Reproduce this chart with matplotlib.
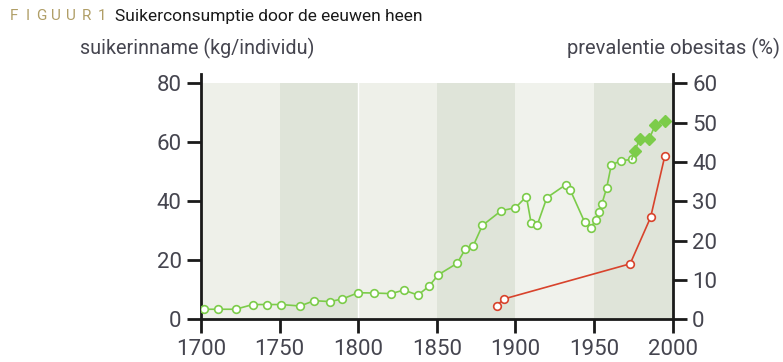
import matplotlib.pyplot as plt

plt.rcParams['font.family'] = ['Roboto', 'DejaVu Sans']

# suikerinname (kg/individu), linker as
sugar_years = [1702, 1711, 1722, 1733, 1742, 1751, 1763, 1772, 1782, 1790,
               1800, 1810, 1821, 1829, 1838, 1845, 1851, 1863, 1868, 1873,
               1879, 1891, 1900, 1907, 1910, 1914, 1920, 1932, 1935, 1944,
               1948, 1951, 1953, 1955, 1958, 1961, 1967, 1974]
sugar_vals = [3.4, 3.4, 3.4, 5.0, 5.0, 5.0, 4.5, 6.3, 6.0, 6.9,
              9.0, 8.9, 8.7, 9.9, 8.2, 11.2, 15.1, 19.0, 23.7, 24.7,
              31.8, 36.8, 37.8, 41.6, 32.6, 32.1, 41.2, 45.6, 43.7, 33.0,
              31.1, 33.6, 36.4, 39.1, 44.4, 52.3, 53.7, 54.2]
# recente jaren (gevulde ruiten)
recent_years = [1974, 1976, 1979, 1985, 1989, 1995]
recent_vals = [54.2, 57.1, 61.0, 61.0, 65.9, 67.3]

# prevalentie obesitas (%), rechter as
obes_years = [1888, 1893, 1973, 1986, 1995]
obes_vals = [3.5, 5.2, 14.1, 25.9, 41.4]

bands = [1700, 1750, 1800, 1850, 1900, 1950, 2000]
band_colors = ['#eef0e9', '#dfe4d9', '#eef0e9', '#dfe4d9', '#f0f2ec', '#dfe4d9']

green = '#7ccc4a'
red = '#d8432c'
txt = '#45454f'
spine_col = '#1a1a1a'

fig = plt.figure(figsize=(7.83, 3.62), dpi=100)
ax = fig.add_axes([0.2567, 0.118, 0.6023, 0.6765])
ax2 = ax.twinx()

for i in range(len(bands) - 1):
    ax.axvspan(bands[i], bands[i + 1], ymin=0, ymax=80 / 83,
               color=band_colors[i], lw=0, zorder=0)
ax.plot([1800, 1800], [0, 80], color='white', lw=1, zorder=0.5)

ax.plot(sugar_years, sugar_vals, color=green, lw=1.2, marker='o', ms=5.5,
        mfc='white', mec=green, mew=1.2, zorder=3)
ax.plot(recent_years, recent_vals, color=green, lw=1.2, zorder=3)
ax.plot(recent_years[1:], recent_vals[1:], ls='none', marker='D', ms=6,
        color=green, zorder=4)

ax2.plot(obes_years, obes_vals, color=red, lw=1.2, marker='o', ms=5.5,
         mfc='white', mec=red, mew=1.2, zorder=3)

ax.set_xlim(1700, 2000)
ax.set_ylim(0, 83)
ax2.set_ylim(0, 83 * 60 / 80)
ax.set_xticks(bands)
ax.set_yticks([0, 20, 40, 60, 80])
ax2.set_yticks([0, 10, 20, 30, 40, 50, 60])

for a in (ax, ax2):
    a.spines['top'].set_visible(False)
    for s in ('left', 'right', 'bottom'):
        a.spines[s].set_linewidth(2)
        a.spines[s].set_color(spine_col)
    a.tick_params(length=10, width=2, color=spine_col, labelcolor=txt,
                  labelsize=16, pad=4)
ax.spines['right'].set_visible(False)
ax2.spines['left'].set_visible(False)
ax2.spines['bottom'].set_visible(False)
ax.set_zorder(ax2.get_zorder() - 1)
ax2.patch.set_visible(False)
ax.patch.set_visible(False)

# "FIGUUR 1" met ruime letterafstand
fig_letters = ['F', 'I', 'G', 'U', 'U', 'R', '1']
fig_x = [10, 26, 36, 51, 66, 82, 98]
for ch, px in zip(fig_letters, fig_x):
    fig.text(px / 783, 0.955, ch, color='#b09e66', fontsize=11,
             va='center', ha='left')
fig.text(115 / 783, 0.955, 'Suikerconsumptie door de eeuwen heen',
         color='#1a1a1a', fontsize=12.5, va='center', ha='left')
fig.text(80 / 783, 0.865, 'suikerinname (kg/individu)', color=txt,
         fontsize=14.2, va='center', ha='left')
fig.text(780 / 783, 0.865, 'prevalentie obesitas (%)', color=txt,
         fontsize=14.5, va='center', ha='right')

fig.savefig('out.png', dpi=100)
